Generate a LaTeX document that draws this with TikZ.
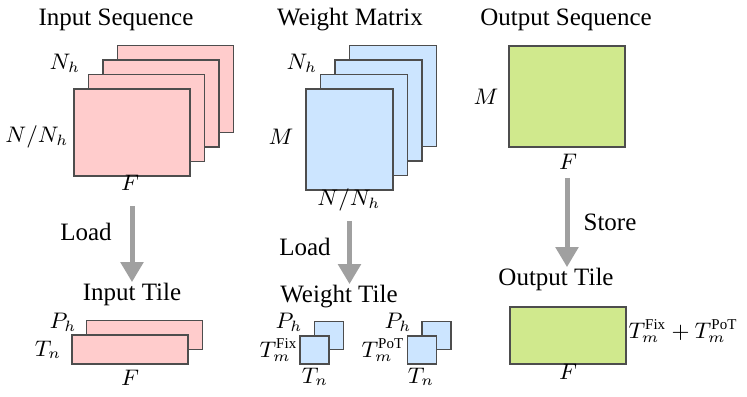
\documentclass[tikz,border=0pt]{standalone}
\usepackage{fontspec}
\setmainfont{Liberation Serif}
\newfontfamily\ttlfont{Liberation Serif}
\usepackage{tikz}
\usetikzlibrary{arrows.meta, positioning}

\definecolor{seqpink}{RGB}{255,204,204}
\definecolor{wblue}{RGB}{204,229,255}
\definecolor{outgreen}{RGB}{208,233,141}
\definecolor{edgegray}{RGB}{77,77,77}
\definecolor{flowgray}{RGB}{160,160,160}

\begin{document}
\begin{tikzpicture}[x=0.4pt, y=-0.4pt]

% ---- Styles -----------------------------------------------------------------
\tikzset{
  ttl/.style={font=\ttlfont\normalsize, anchor=base, inner sep=0pt},
  lbl/.style={font=\small, inner sep=0pt},
  blk/.style={draw=edgegray, line width=0.6pt, inner sep=0pt},
  pinkblk/.style={blk, fill=seqpink},
  blueblk/.style={blk, fill=wblue},
  greenblk/.style={blk, fill=outgreen},
  flow/.style={draw=flowgray, line width=2pt,
               -{Triangle[width=8.8pt, length=8pt]}},
}

\def\SD{14.5}  % stack offset (px)

\useasboundingbox (0,0) rectangle (747,396);

% ---- Titles -----------------------------------------------------------------
\node[ttl] (inT)    at (116,25)  {Input Sequence};
\node[ttl] (wT)     at (350,25)  {Weight Matrix};
\node[ttl] (outT)   at (566,25)  {Output Sequence};
\node[ttl] (inTileT)  at (132,300) {Input Tile};
\node[ttl] (wTileT)   at (339,302) {Weight Tile};
\node[ttl] (outTileT) at (556,285) {Output Tile};

% ---- Input sequence (N_h stacked slices) ------------------------------------
\foreach \i in {3,2,1,0}
  \node[pinkblk, minimum width=46.4pt, minimum height=34.8pt]
    (in\i) at (132+\i*\SD, 132.5-\i*\SD) {};
\node[lbl] (inNh) at (65,63)  {$N_h$};
\node[lbl] (inNN) at (37,137) {$N/N_h$};
\node[lbl] (inF)  at (130,183) {$F$};

% ---- Weight matrix ----------------------------------------------------------
\foreach \i in {3,2,1,0}
  \node[blueblk, minimum width=34.8pt, minimum height=40.4pt]
    (w\i) at (349.5+\i*\SD, 139.5-\i*\SD) {};
\node[lbl] (wNh) at (302,63)  {$N_h$};
\node[lbl] (wM)  at (281,137) {$M$};
\node[lbl] (wNN) at (349,200) {$N/N_h$};

% ---- Output sequence --------------------------------------------------------
\node[greenblk, minimum width=46.4pt, minimum height=40.4pt]
  (out) at (567,96.5) {};
\node[lbl] (outM) at (486,97)  {$M$};
\node[lbl] (outF) at (568,162) {$F$};

% ---- Load / store arrows ----------------------------------------------------
\draw[flow, shorten <=11.6pt] (in0.south) -- (in0.south |- inTileT.north);
\draw[flow, shorten <=12pt]   (w0.south)  -- (w0.south |- wTileT.north);
\draw[flow, shorten <=12pt]   (out.south) -- (out.south |- outTileT.north);
\node[ttl] (inLoad) at (86,240)  {Load};
\node[ttl] (wLoad)  at (305,255) {Load};
\node[ttl] (store)  at (610,230) {Store};

% ---- Input tile -------------------------------------------------------------
\foreach \i in {1,0}
  \node[pinkblk, minimum width=46.4pt, minimum height=11.6pt]
    (inTile\i) at (130+\i*\SD, 349.5-\i*\SD) {};
\node[lbl] (tPh) at (63,322) {$P_h$};
\node[lbl] (tTn) at (48,350) {$T_n$};
\node[lbl] (tF)  at (130,378) {$F$};

% ---- Weight tiles (fixed-point and PoT) -------------------------------------
\foreach \i in {1,0} {
  \node[blueblk, minimum width=11.6pt, minimum height=11.2pt]
    (fix\i) at (314.5+\i*\SD, 350-\i*\SD) {};
  \node[blueblk, minimum width=11.6pt, minimum height=11.2pt]
    (pot\i) at (422+\i*\SD, 350-\i*\SD) {};
}
\node[lbl] (fixPh) at (289,322) {$P_h$};
\node[lbl, anchor=east] (fixTm) at (298,350) {$T_m^{\mathrm{Fix}}$};
\node[lbl] (fixTn) at (315,377) {$T_n$};
\node[lbl] (potPh) at (398,322) {$P_h$};
\node[lbl, anchor=east] (potTm) at (405,350) {$T_m^{\mathrm{PoT}}$};
\node[lbl] (potTn) at (421,377) {$T_n$};

% ---- Output tile ------------------------------------------------------------
\node[greenblk, minimum width=46.4pt, minimum height=22.8pt]
  (outTile) at (568,335.5) {};
\node[lbl, anchor=west] (oTm) at (628,331)
  {$T_m^{\mathrm{Fix}}+T_m^{\mathrm{PoT}}$};
\node[lbl] (oF) at (568,372) {$F$};

\end{tikzpicture}
\end{document}
